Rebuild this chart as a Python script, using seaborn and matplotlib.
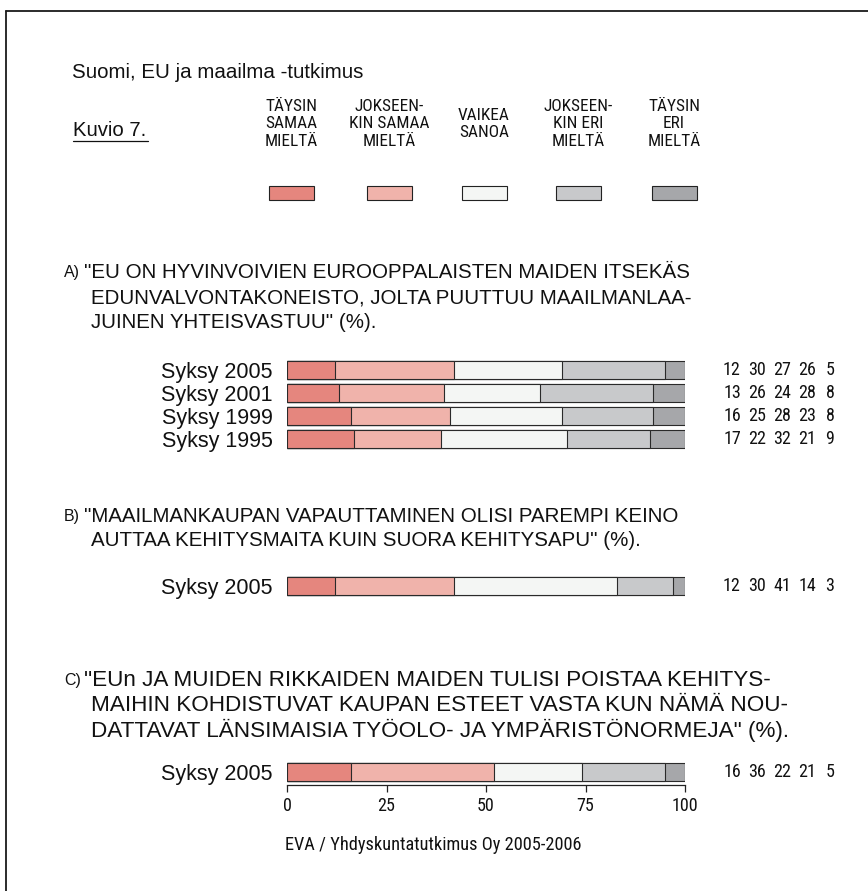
import numpy as np
import matplotlib
matplotlib.use("Agg")
import matplotlib.pyplot as plt
import matplotlib.transforms as mtransforms
from matplotlib.lines import Line2D
from matplotlib.patches import Rectangle
import seaborn as sns

sns.set_theme(style="white")
plt.rcParams['font.family'] = ['Liberation Sans', 'DejaVu Sans']
NARROW = ['Roboto Condensed', 'Liberation Sans', 'DejaVu Sans']

# ---------------- data ----------------
categories = ["TÄYSIN\nSAMAA\nMIELTÄ", "JOKSEEN-\nKIN SAMAA\nMIELTÄ", "VAIKEA\nSANOA",
              "JOKSEEN-\nKIN ERI\nMIELTÄ", "TÄYSIN\nERI\nMIELTÄ"]
colors = ["#E5867E", "#F0B3AB", "#F4F6F4", "#C8C9CB", "#A6A7AA"]

labels_a = ["Syksy 2005", "Syksy 2001", "Syksy 1999", "Syksy 1995"]
values_a = [[12, 30, 27, 26, 5],
            [13, 26, 24, 28, 8],
            [16, 25, 28, 23, 8],
            [17, 22, 32, 21, 9]]
labels_b = ["Syksy 2005"]
values_b = [[12, 30, 41, 14, 3]]
labels_c = ["Syksy 2005"]
values_c = [[16, 36, 22, 21, 5]]
ticks = [0, 25, 50, 75, 100]

title = "Suomi, EU ja maailma -tutkimus"
figure_label = "Kuvio 7."
source = "EVA / Yhdyskuntatutkimus Oy 2005-2006"
question_a = ['"EU ON HYVINVOIVIEN EUROOPPALAISTEN MAIDEN ITSEKÄS',
              'EDUNVALVONTAKONEISTO, JOLTA PUUTTUU MAAILMANLAA-',
              'JUINEN YHTEISVASTUU" (%).']
question_b = ['"MAAILMANKAUPAN VAPAUTTAMINEN OLISI PAREMPI KEINO',
              'AUTTAA KEHITYSMAITA KUIN SUORA KEHITYSAPU" (%).']
question_c = ['"EUn JA MUIDEN RIKKAIDEN MAIDEN TULISI POISTAA KEHITYS-',
              'MAIHIN KOHDISTUVAT KAUPAN ESTEET VASTA KUN NÄMÄ NOU-',
              'DATTAVAT LÄNSIMAISIA TYÖOLO- JA YMPÄRISTÖNORMEJA" (%).']

# ---------------- layout ----------------
W, H = 868, 891
fig = plt.figure(figsize=(W / 100, H / 100), dpi=100)
fig.patch.set_facecolor("white")
TXT = "#111111"


def fx(x):
    return x / W


def fy(y):
    return 1 - y / H


def add_ax(x0, y0, x1, y1):
    return fig.add_axes([fx(x0), fy(y1), fx(x1 - x0), (y1 - y0) / H])


# frame
frame_kw = dict(color="#1a1a1a", linewidth=1.3, transform=fig.transFigure)
fig.add_artist(Line2D([fx(6), fx(6)], [fy(891), fy(11)], **frame_kw))
fig.add_artist(Line2D([fx(6), fx(868)], [fy(11), fy(11)], **frame_kw))

fig.text(fx(72), fy(73), title, fontsize=14.75, va="center", ha="left", color=TXT)
fig.text(fx(73), fy(131), figure_label, fontsize=14.6, va="center", ha="left", color=TXT)
fig.add_artist(Line2D([fx(73), fx(148)], [fy(141), fy(141)], color=TXT,
                      linewidth=0.9, transform=fig.transFigure))

# legend
leg_x = [291, 389, 484, 578, 674]
for cx, lab, col in zip(leg_x, categories, colors):
    fig.text(fx(cx), fy(124), lab, fontsize=12.4, family=NARROW, ha="center",
             va="center", multialignment="center", linespacing=1.2, color=TXT)
    fig.add_artist(Rectangle((fx(cx - 22), fy(200)), fx(45), 14 / H,
                             facecolor=col, edgecolor="#222222", linewidth=0.8,
                             transform=fig.transFigure))


def question(letter, lines, y0, size=14.75):
    fig.text(fx(64), fy(y0), letter, fontsize=11.5, ha="left", va="center", color=TXT)
    for i, ln in enumerate(lines):
        x = 84 if i == 0 else 91
        fig.text(fx(x), fy(y0 + 24.5 * i), ln, fontsize=size, ha="left",
                 va="center", color=TXT)


question("A)", question_a, 273)
question("B)", question_b, 516)
question("C)", question_c, 681, size=16.2)

num_x = [732, 757, 782, 807, 830]
BAR_PX = 18


def draw_block(ax, labels, values, row_px, show_axis=False):
    vals = np.array(values, dtype=float)
    share = vals / vals.sum(axis=1, keepdims=True) * 100
    cum = np.cumsum(share, axis=1)
    for k in range(len(colors) - 1, -1, -1):
        sns.barplot(x=cum[:, k], y=labels, orient="h", color=colors[k], saturation=1,
                    width=BAR_PX / row_px, edgecolor="#2a2a2a", linewidth=0.8,
                    errorbar=None, ax=ax)
    ax.set_xlim(0, 100)
    ax.set_ylim(len(labels) - 0.5, -0.5)
    ax.set_xlabel("")
    ax.set_ylabel("")
    ax.set_facecolor("none")
    for s in ["top", "right", "left", "bottom"]:
        ax.spines[s].set_visible(False)
    ax.tick_params(axis="y", length=0, pad=10.5, labelsize=15.5, labelcolor=TXT)
    trans = mtransforms.blended_transform_factory(fig.transFigure, ax.transData)
    for i, row in enumerate(values):
        for v, x in zip(row, num_x):
            ax.text(fx(x), i, str(v), transform=trans, ha="center", va="center",
                    fontsize=13, family=NARROW, color=TXT)
    if show_axis:
        ax.spines["bottom"].set_visible(True)
        ax.spines["bottom"].set_color("#222222")
        ax.spines["bottom"].set_linewidth(0.9)
        ax.spines["bottom"].set_position(("outward", 1))
        ax.set_xticks(ticks)
        ax.set_xticklabels([str(t) for t in ticks], family=NARROW)
        ax.tick_params(axis="x", bottom=True, length=5, width=0.9, color="#222222",
                       pad=4, labelsize=13, labelcolor=TXT)
    else:
        ax.set_xticks([])


ROW = 23
ax_a = add_ax(287, 370 - ROW / 2, 685, 370 - ROW / 2 + ROW * 4)
draw_block(ax_a, labels_a, values_a, ROW)
ax_b = add_ax(287, 586 - ROW / 2, 685, 586 + ROW / 2)
draw_block(ax_b, labels_b, values_b, ROW)
ax_c = add_ax(287, 772 - ROW / 2, 685, 772 + ROW / 2)
draw_block(ax_c, labels_c, values_c, ROW, show_axis=True)

fig.text(fx(285), fy(845), source, fontsize=13.2, family=NARROW, ha="left",
         va="center", color=TXT)

fig.savefig("out.png", dpi=100, facecolor="white")
